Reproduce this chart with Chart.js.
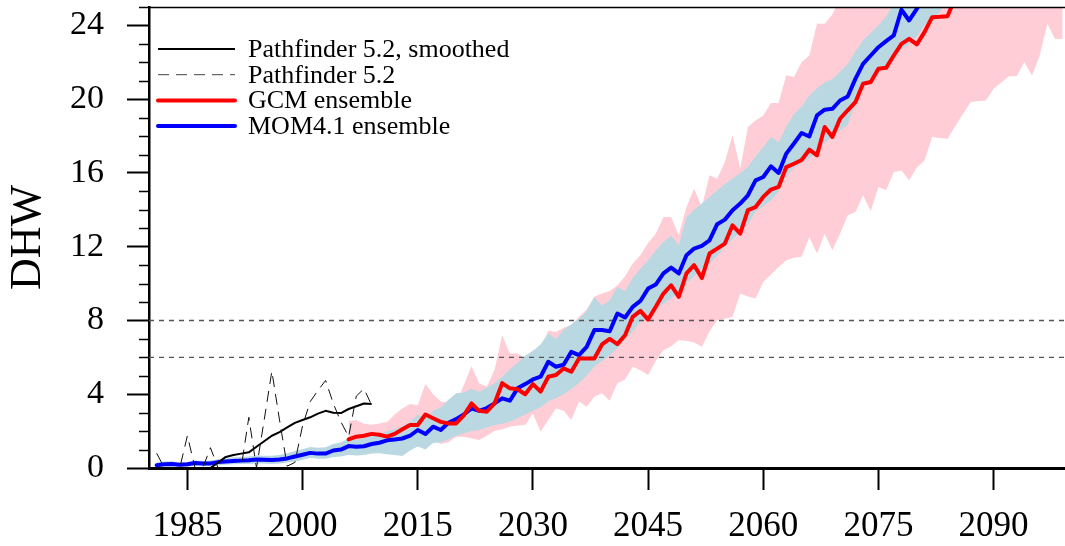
<!DOCTYPE html>
<html>
<head>
<meta charset="utf-8">
<title>DHW projection</title>
<script src="https://cdn.jsdelivr.net/npm/chart.js@4.4.1/dist/chart.umd.min.js"></script>
<style>
    html, body { margin: 0; padding: 0; background: #fff; }
    #wrap { width: 1065px; height: 546px; }
</style>
</head>
<body>
<div id="wrap"><canvas id="dhw-canvas" width="1065" height="546"></canvas></div>
<script>
// Axis ticks
const xTicks = [1985, 2000, 2015, 2030, 2045, 2060, 2075, 2090];
const yTicks = [0, 4, 8, 12, 16, 20, 24];
const thresholds = [6, 8];

const legendLabels = ['Pathfinder 5.2, smoothed', 'Pathfinder 5.2', 'GCM ensemble', 'MOM4.1 ensemble'];

// Pathfinder 5.2 observations, 1981-2009
const pathfinderStart = 1981;
const pathfinder = [0.8, 0, 0, 0, 1.75, 0, 0, 1.1, 0, 0, 0, 0, 2.75, 0, 2.6, 5.25, 2.6, 0.1, 0.3, 2.3,
    3.6, 4.2, 4.75, 3.5, 2.5, 1.7, 3.9, 4.3, 3.4];

// Pathfinder 5.2 smoothed, 1988-2009
const smoothedStart = 1988;
const smoothed = [0, 0.3, 0.6, 0.7, 0.78, 0.85, 1.15, 1.45, 1.75, 1.95, 2.2, 2.45, 2.6, 2.75, 2.95, 3.1,
    3.0, 2.98, 3.2, 3.35, 3.5, 3.47];

// MOM4.1 ensemble mean, 1981-2081
const momStart = 1981;
const mom = [0.15, 0.2, 0.22, 0.18, 0.2, 0.27, 0.24, 0.25, 0.32, 0.35,
    0.38, 0.4, 0.42, 0.46, 0.45, 0.44, 0.46, 0.52, 0.62, 0.72,
    0.82, 0.78, 0.78, 0.95, 1.0, 1.19, 1.15, 1.18, 1.3, 1.37,
    1.5, 1.55, 1.6, 1.75, 2.06, 1.84, 2.24, 2.06, 2.45, 2.65,
    2.9, 3.23, 3.1, 3.25, 3.5, 3.78, 3.65, 4.32, 4.55, 4.8,
    4.95, 5.76, 5.49, 5.6, 6.3, 6.12, 6.57, 7.48, 7.48, 7.42,
    8.38, 8.16, 8.74, 9.06, 9.73, 9.95, 10.55, 10.87, 10.55, 11.54,
    11.9, 12.05, 12.35, 13.22, 13.47, 13.98, 14.34, 14.79, 15.6, 15.78,
    16.36, 16.0, 17.05, 17.6, 18.17, 17.98, 19.12, 19.43, 19.48, 19.93,
    20.15, 21.1, 21.92, 22.37, 22.82, 23.15, 23.46, 24.85, 24.27, 24.9,
    25.6];

// MOM4.1 ensemble range, 1981-2084
const momRangeStart = 1981;
const momLo = [0.05, 0.08, 0.1, 0.05, 0.08, 0.12, 0.1, 0.1, 0.15, 0.18,
    0.2, 0.22, 0.22, 0.25, 0.25, 0.22, 0.25, 0.3, 0.35, 0.45,
    0.55, 0.5, 0.5, 0.6, 0.62, 0.72, 0.68, 0.7, 0.78, 0.8,
    0.75, 0.7, 0.65, 0.95, 1.16, 1.0, 1.35, 1.4, 1.55, 1.75,
    1.88, 2.0, 2.06, 2.2, 2.33, 2.4, 2.51, 2.7, 2.9, 3.1,
    3.3, 3.6, 3.8, 4.0, 4.3, 4.59, 5.0, 5.49, 5.8, 6.1,
    6.5, 6.93, 7.4, 7.9, 8.3, 8.7, 8.9, 9.2, 9.5, 10.0,
    10.4, 10.8, 11.1, 11.5, 12.0, 12.4, 12.8, 13.2, 13.9, 14.2,
    14.5, 15.0, 15.8, 16.3, 16.5, 16.8, 17.2, 17.6, 18.0, 18.3,
    18.6, 19.8, 20.8, 21.2, 21.6, 21.8, 22.3, 22.7, 23.0, 23.4,
    24.0, 24.4, 24.7, 25.5];
const momHi = [0.3, 0.35, 0.36, 0.3, 0.32, 0.4, 0.38, 0.4, 0.48, 0.52,
    0.58, 0.6, 0.62, 0.68, 0.66, 0.66, 0.7, 0.8, 0.92, 1.02,
    1.14, 1.1, 1.12, 1.3, 1.4, 1.58, 1.55, 1.62, 1.75, 1.82,
    2.0, 2.1, 2.25, 2.5, 2.87, 2.7, 3.1, 3.3, 3.7, 4.05,
    4.1, 4.3, 4.14, 4.35, 4.6, 4.95, 5.35, 5.7, 6.1, 6.35,
    6.7, 7.3, 7.0, 7.5, 7.8, 8.1, 8.5, 9.28, 8.8, 9.1,
    9.82, 9.6, 10.3, 10.8, 11.27, 11.8, 12.26, 12.6, 12.1, 13.6,
    14.0, 14.34, 14.7, 15.06, 15.4, 15.7, 16.0, 16.32, 16.9, 17.4,
    17.95, 17.68, 18.5, 19.2, 19.6, 20.2, 20.6, 20.9, 21.1, 21.5,
    21.9, 22.6, 23.2, 23.6, 24.0, 24.5, 25.2, 25.8, 26.0, 26.5,
    27.0, 27.0, 27.0, 28.0];

// GCM ensemble mean, 2006-2085
const gcmStart = 2006;
const gcm = [1.55, 1.7, 1.75, 1.85, 1.8, 1.7, 1.85, 2.1, 2.33, 2.33,
    2.9, 2.7, 2.5, 2.42, 2.42, 2.85, 3.5, 3.1, 3.05, 3.5,
    4.6, 4.32, 4.27, 4.0, 4.55, 4.14, 4.95, 5.04, 5.4, 5.22,
    5.94, 5.94, 5.94, 6.7, 7.0, 6.72, 7.2, 8.2, 8.52, 8.05,
    8.74, 9.46, 9.91, 9.28, 10.55, 11.0, 10.3, 11.63, 11.9, 12.17,
    13.16, 12.71, 13.98, 14.15, 14.7, 15.1, 15.24, 16.32, 16.5, 16.7,
    17.26, 16.96, 18.49, 17.95, 18.94, 19.4, 19.84, 20.84, 20.93, 21.65,
    21.7, 22.37, 23.0, 23.27, 22.97, 23.64, 24.45, 24.47, 24.5, 25.5];

// GCM ensemble range, 2006-2099
const gcmRangeStart = 2006;
const gcmLo = [1.3, 1.3, 1.3, 1.35, 1.3, 1.2, 1.2, 1.2, 1.3, 1.4,
    1.5, 1.5, 1.3, 1.4, 1.7, 1.7, 1.6, 1.52, 1.75, 2.0,
    2.1, 2.24, 2.3, 2.33, 2.96, 1.97, 2.6, 3.23, 3.1, 2.6,
    3.6, 3.32, 3.86, 4.05, 3.65, 4.59, 4.8, 5.49, 5.3, 5.04,
    5.8, 6.39, 6.6, 6.93, 6.9, 6.8, 6.57, 7.4, 8.02, 8.1,
    8.2, 9.46, 9.3, 9.19, 10.09, 10.5, 10.9, 11.27, 11.4, 11.45,
    12.53, 11.63, 12.71, 11.81, 12.71, 13.7, 13.88, 14.79, 13.94, 15.24,
    15.06, 16.05, 16.14, 15.6, 16.3, 16.68, 17.95, 17.9, 17.86, 18.53,
    19.2, 19.84, 19.9, 19.93, 20.57, 20.9, 21.24, 21.24, 22.0, 21.29,
    22.37, 24.09, 23.27, 23.27];
const gcmHi = [2.55, 2.6, 2.4, 2.35, 2.42, 2.5, 2.9, 3.23, 3.47, 3.4,
    4.55, 4.0, 3.6, 3.55, 3.5, 4.5, 5.52, 4.59, 4.4, 5.31,
    7.2, 6.21, 6.21, 5.94, 6.39, 6.39, 7.45, 7.38, 7.6, 7.75,
    8.2, 8.6, 9.3, 9.46, 9.6, 9.9, 10.4, 11.09, 11.54, 12.2,
    12.71, 13.61, 13.61, 12.62, 14.15, 15.15, 14.15, 15.87, 15.69, 16.6,
    18.04, 16.24, 18.49, 18.85, 19.12, 19.79, 19.79, 21.3, 21.2, 22.0,
    22.37, 24.09, 24.09, 24.6, 25.5, 26, 26, 26, 26, 26,
    26, 26, 26, 26, 26, 26, 26, 26, 26, 26,
    26, 26, 26, 26, 26, 26, 26, 26, 26, 26,
    26, 26, 26, 26];

const FONT = '"Liberation Serif", "Times New Roman", Times, serif';
const PINK = 'rgb(255, 205, 213)';
const LIGHTBLUE = 'rgb(185, 216, 226)';
const NONE = 'rgba(0, 0, 0, 0)';

function toPoints(start, values) {
    return values.map((v, i) => ({ x: start + i, y: v }));
}

const X_MIN = 1980;
const X_MAX = 2099.3;

function thresholdLine(value) {
    return {
        data: [{ x: X_MIN, y: value }, { x: X_MAX, y: value }],
        borderColor: '#555',
        borderWidth: 1.3,
        borderDash: [5, 5],
        pointRadius: 0,
        fill: false,
        order: 6
    };
}

// dataset indexes matter for the band fills
const datasets = [
    { data: toPoints(gcmRangeStart, gcmLo), borderColor: NONE, borderWidth: 1, pointRadius: 0, fill: false, order: 10 },
    { data: toPoints(gcmRangeStart, gcmHi), borderColor: NONE, borderWidth: 1, pointRadius: 0, fill: 0, backgroundColor: PINK, order: 9 },
    { data: toPoints(momRangeStart, momLo), borderColor: NONE, borderWidth: 1, pointRadius: 0, fill: false, order: 8 },
    { data: toPoints(momRangeStart, momHi), borderColor: NONE, borderWidth: 1, pointRadius: 0, fill: 2, backgroundColor: LIGHTBLUE, order: 7 },
    ...thresholds.map(thresholdLine),
    {
        label: legendLabels[3], data: toPoints(momStart, mom),
        borderColor: '#0000ff', borderWidth: 4, pointRadius: 0, fill: false, order: 4,
        borderJoinStyle: 'round', borderCapStyle: 'round'
    },
    {
        label: legendLabels[2], data: toPoints(gcmStart, gcm),
        borderColor: '#ff0000', borderWidth: 4, pointRadius: 0, fill: false, order: 3,
        borderJoinStyle: 'round', borderCapStyle: 'round'
    },
    {
        label: legendLabels[0], data: toPoints(smoothedStart, smoothed),
        borderColor: '#000', borderWidth: 2, pointRadius: 0, fill: false, order: 2,
        borderJoinStyle: 'round'
    },
    {
        label: legendLabels[1], data: toPoints(pathfinderStart, pathfinder),
        borderColor: '#111', borderWidth: 1, borderDash: [11, 7], pointRadius: 0, fill: false, order: 1
    }
];

// frame line on top, minor y ticks and the in-plot legend
const decorPlugin = {
    id: 'decor',
    afterDraw(chart) {
        const { ctx, chartArea } = chart;
        const yScale = chart.scales.y;
        ctx.save();

        ctx.strokeStyle = '#000';
        ctx.lineWidth = 1.5;
        ctx.beginPath();
        ctx.moveTo(chartArea.left, chartArea.top + 0.5);
        ctx.lineTo(chartArea.right, chartArea.top + 0.5);
        ctx.stroke();

        ctx.lineWidth = 1.5;
        for (let v = 0; v <= 25; v++) {
            if (v % 4 === 0) continue;
            const y = Math.round(yScale.getPixelForValue(v)) + 0.5;
            ctx.beginPath();
            ctx.moveTo(chartArea.left - 10, y);
            ctx.lineTo(chartArea.left, y);
            ctx.stroke();
        }

        const entries = [
            { color: '#000', width: 2, dash: [] },
            { color: '#444', width: 1, dash: [11, 7] },
            { color: '#ff0000', width: 4, dash: [] },
            { color: '#0000ff', width: 4, dash: [] }
        ];
        const x0 = chartArea.left + 9;
        const x1 = chartArea.left + 86;
        const tx = chartArea.left + 99;
        ctx.font = '26px ' + FONT;
        ctx.textBaseline = 'middle';
        ctx.textAlign = 'left';
        entries.forEach((e, i) => {
            const y = chartArea.top + 42 + i * 25.7;
            ctx.strokeStyle = e.color;
            ctx.lineWidth = e.width;
            ctx.lineCap = e.width > 2 ? 'round' : 'butt';
            ctx.setLineDash(e.dash);
            ctx.beginPath();
            ctx.moveTo(x0, y);
            ctx.lineTo(x1, y);
            ctx.stroke();
            ctx.setLineDash([]);
            ctx.fillStyle = '#000';
            ctx.fillText(legendLabels[i], tx, y + 1);
        });
        ctx.restore();
    }
};

new Chart(document.getElementById('dhw-canvas'), {
    type: 'line',
    data: { datasets },
    options: {
        responsive: false,
        animation: false,
        events: [],
        clip: 0,
        layout: { padding: { top: 7, right: 0, left: 0, bottom: 0 } },
        plugins: {
            legend: { display: false },
            tooltip: { enabled: false }
        },
        scales: {
            x: {
                type: 'linear',
                min: X_MIN,
                max: X_MAX,
                afterBuildTicks: (scale) => { scale.ticks = xTicks.map(v => ({ value: v })); },
                afterFit: (scale) => {
                    scale.height = 78;
                    scale.paddingLeft = 0;
                    scale.paddingRight = 0;
                },
                grid: { drawOnChartArea: false, tickLength: 22, tickWidth: 2, tickColor: '#000' },
                border: { display: true, color: '#000', width: 3 },
                ticks: {
                    color: '#000',
                    font: { family: FONT, size: 35 },
                    padding: 16,
                    maxRotation: 0,
                    autoSkip: false,
                    callback: (v) => String(v)
                }
            },
            y: {
                type: 'linear',
                min: 0,
                max: 25,
                afterBuildTicks: (scale) => { scale.ticks = yTicks.map(v => ({ value: v })); },
                afterFit: (scale) => {
                    scale.width = 149;
                    scale.paddingTop = 0;
                    scale.paddingBottom = 0;
                },
                grid: { drawOnChartArea: false, tickLength: 22, tickWidth: 2, tickColor: '#000' },
                border: { display: true, color: '#000', width: 2.5 },
                ticks: {
                    color: '#000',
                    font: { family: FONT, size: 34 },
                    padding: 23,
                    callback: (v) => String(v)
                },
                title: {
                    display: true,
                    text: 'DHW',
                    color: '#000',
                    font: { family: FONT, size: 44 },
                    padding: { top: 2, bottom: 0 }
                }
            }
        }
    },
    plugins: [decorPlugin]
});
</script>
</body>
</html>
